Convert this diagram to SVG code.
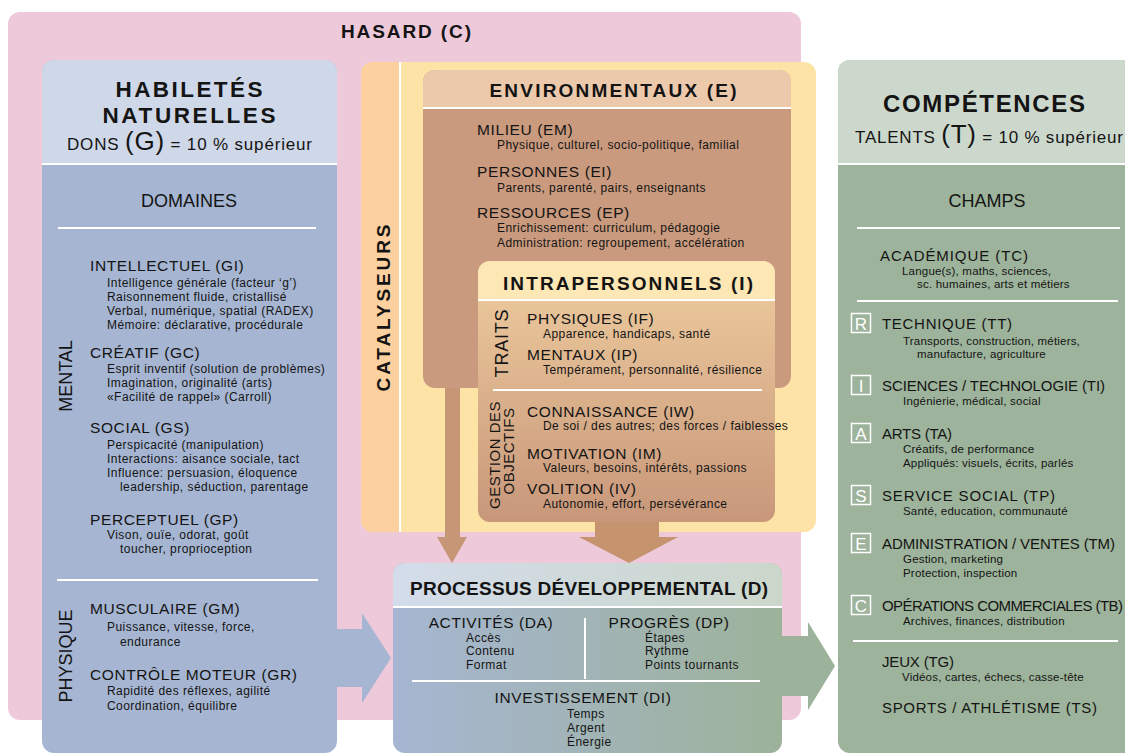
<svg xmlns="http://www.w3.org/2000/svg" width="1125" height="754" viewBox="0 0 1125 754">
<defs>
<style>
text{font-family:"Liberation Sans",Arial,Helvetica,sans-serif;fill:#141414}
.ttl{font-weight:bold;font-size:19px;text-anchor:middle}
.big{font-weight:bold;font-size:24px;text-anchor:middle}
.big2{font-weight:bold;font-size:22.5px;text-anchor:middle}
.sec{font-size:18px;text-anchor:middle}
.hd{font-size:15.5px;letter-spacing:0.6px}
.hdm{font-size:15.5px;letter-spacing:0.6px;text-anchor:middle}
.sb{font-size:12px;letter-spacing:0.45px}
.ch{font-size:15px}
.cs{font-size:11.5px;letter-spacing:0.2px}
.rot{font-size:18px;text-anchor:middle}
.rots{font-size:15px;text-anchor:middle;letter-spacing:0.5px}
.ltr{font-size:17px;fill:#ffffff;text-anchor:middle}
.lbox{fill:none;stroke:#ffffff;stroke-width:1.5}
.wl{stroke:#ffffff;stroke-width:2}
</style>
<linearGradient id="gIntra" x1="0" y1="0" x2="0" y2="1">
<stop offset="0" stop-color="#efcd9f"/>
<stop offset="1" stop-color="#c8977a"/>
</linearGradient>
<linearGradient id="gProcB" x1="0" y1="0" x2="1" y2="0">
<stop offset="0" stop-color="#a6b6d2"/>
<stop offset="1" stop-color="#9db29a"/>
</linearGradient>
<linearGradient id="gProcH" x1="0" y1="0" x2="1" y2="0">
<stop offset="0" stop-color="#d3dcea"/>
<stop offset="1" stop-color="#ccd7cb"/>
</linearGradient>
</defs>

<g id="hasard">
<rect x="8" y="12" width="793" height="708" rx="12" fill="#edc9da"/>
<text class="ttl" x="406" y="38" textLength="130" lengthAdjust="spacing">HASARD (C)</text>
</g>

<g id="catalyseurs">
<rect x="361" y="62" width="455" height="470" rx="12" fill="#fde3a6"/>
<path d="M399,62 V532 H373 a12,12 0 0 1 -12,-12 V74 a12,12 0 0 1 12,-12 Z" fill="#fdd09f"/>
<line class="wl" x1="400" y1="62" x2="400" y2="532"/>
<text class="ttl" transform="translate(390,308) rotate(-90)" textLength="167" lengthAdjust="spacing">CATALYSEURS</text>
</g>

<g id="connectors">
<polygon points="330,629 362,629 362,613 391,658 362,703 362,687 330,687" fill="#a6b6d2"/>
<polygon points="775,636 808,636 808,622 835,666 808,710 808,696 775,696" fill="#9db29a"/>
<polygon points="445,380 460,380 460,537 467,537 452,563 437,537 445,537" fill="#c69677"/>
<polygon points="595,515 659,515 659,537 678,537 629,563 579,537 595,537" fill="#c5946f"/>
</g>

<g id="habiletes">
<rect x="42" y="60" width="295" height="693" rx="12" fill="#a6b6d2"/>
<path d="M42,163 V72 a12,12 0 0 1 12,-12 H325 a12,12 0 0 1 12,12 V163 Z" fill="#cfd8e8"/>
<line class="wl" x1="42" y1="164" x2="337" y2="164"/>
<text class="big2" x="189" y="97" textLength="147" lengthAdjust="spacing">HABILETÉS</text>
<text class="big2" x="189" y="123" textLength="173" lengthAdjust="spacing">NATURELLES</text>
<text x="67" y="150" style="font-size:17px" textLength="245" lengthAdjust="spacing">DONS <tspan style="font-size:26px">(G)</tspan> = 10 % supérieur</text>
<text class="sec" x="189" y="207">DOMAINES</text>
<line class="wl" x1="58" y1="228" x2="316" y2="228"/>
<text class="rot" transform="translate(72,376) rotate(-90)">MENTAL</text>
<text class="hd" x="90" y="271">INTELLECTUEL (GI)</text>
<text class="sb" x="107" y="287">Intelligence générale (facteur ‘g’)</text>
<text class="sb" x="107" y="301">Raisonnement fluide, cristallisé</text>
<text class="sb" x="107" y="315">Verbal, numérique, spatial (RADEX)</text>
<text class="sb" x="107" y="329">Mémoire: déclarative, procédurale</text>
<text class="hd" x="90" y="358">CRÉATIF (GC)</text>
<text class="sb" x="107" y="373">Esprit inventif (solution de problèmes)</text>
<text class="sb" x="107" y="387">Imagination, originalité (arts)</text>
<text class="sb" x="107" y="401">«Facilité de rappel» (Carroll)</text>
<text class="hd" x="90" y="433">SOCIAL (GS)</text>
<text class="sb" x="107" y="449">Perspicacité (manipulation)</text>
<text class="sb" x="107" y="463">Interactions: aisance sociale, tact</text>
<text class="sb" x="107" y="477">Influence: persuasion, éloquence</text>
<text class="sb" x="120" y="491">leadership, séduction, parentage</text>
<text class="hd" x="90" y="525">PERCEPTUEL (GP)</text>
<text class="sb" x="107" y="539">Vison, ouïe, odorat, goût</text>
<text class="sb" x="120" y="553">toucher, proprioception</text>
<line class="wl" x1="57" y1="580" x2="318" y2="580"/>
<text class="rot" transform="translate(72,656) rotate(-90)">PHYSIQUE</text>
<text class="hd" x="90" y="614">MUSCULAIRE (GM)</text>
<text class="sb" x="107" y="631">Puissance, vitesse, force,</text>
<text class="sb" x="120" y="646">endurance</text>
<text class="hd" x="90" y="680">CONTRÔLE MOTEUR (GR)</text>
<text class="sb" x="107" y="695">Rapidité des réflexes, agilité</text>
<text class="sb" x="107" y="710">Coordination, équilibre</text>
</g>

<g id="environnementaux">
<rect x="423" y="70" width="368" height="318" rx="12" fill="#c99a7e"/>
<path d="M423,108 V82 a12,12 0 0 1 12,-12 H779 a12,12 0 0 1 12,12 V108 Z" fill="#edc9ac"/>
<line class="wl" x1="423" y1="108" x2="791" y2="108"/>
<text class="ttl" x="613" y="97" textLength="247" lengthAdjust="spacing">ENVIRONMENTAUX (E)</text>
<text class="hd" x="477" y="135">MILIEU (EM)</text>
<text class="sb" x="497" y="149">Physique, culturel, socio-politique, familial</text>
<text class="hd" x="477" y="177">PERSONNES (EI)</text>
<text class="sb" x="497" y="192">Parents, parenté, pairs, enseignants</text>
<text class="hd" x="477" y="218">RESSOURCES (EP)</text>
<text class="sb" x="497" y="232">Enrichissement: curriculum, pédagogie</text>
<text class="sb" x="497" y="247">Administration: regroupement, accélération</text>
</g>

<g id="intrapersonnels">
<rect x="478" y="261" width="297" height="261" rx="12" fill="url(#gIntra)"/>
<path d="M478,300 V273 a12,12 0 0 1 12,-12 H763 a12,12 0 0 1 12,12 V300 Z" fill="#fde7b5"/>
<line class="wl" x1="478" y1="300" x2="775" y2="300"/>
<text class="ttl" x="628" y="290" textLength="250" lengthAdjust="spacing">INTRAPERSONNELS (I)</text>
<text class="rot" transform="translate(508,343) rotate(-90)" style="letter-spacing:0.8px">TRAITS</text>
<text class="hd" x="527" y="324">PHYSIQUES (IF)</text>
<text class="sb" x="543" y="338">Apparence, handicaps, santé</text>
<text class="hd" x="527" y="360">MENTAUX (IP)</text>
<text class="sb" x="543" y="374">Tempérament, personnalité, résilience</text>
<line class="wl" x1="493" y1="390" x2="762" y2="390"/>
<text class="rots" transform="translate(500,455) rotate(-90)">GESTION DES</text>
<text class="rots" transform="translate(514,451) rotate(-90)">OBJECTIFS</text>
<text class="hd" x="527" y="417">CONNAISSANCE (IW)</text>
<text class="sb" x="543" y="430">De soi / des autres; des forces / faiblesses</text>
<text class="hd" x="527" y="459">MOTIVATION (IM)</text>
<text class="sb" x="543" y="472">Valeurs, besoins, intérêts, passions</text>
<text class="hd" x="527" y="494">VOLITION (IV)</text>
<text class="sb" x="543" y="508">Autonomie, effort, persévérance</text>
</g>

<g id="processus">
<rect x="393" y="563" width="389" height="190" rx="12" fill="url(#gProcB)"/>
<path d="M393,606 V575 a12,12 0 0 1 12,-12 H770 a12,12 0 0 1 12,12 V606 Z" fill="url(#gProcH)"/>
<line class="wl" x1="393" y1="607" x2="782" y2="607"/>
<text class="ttl" x="589" y="595" textLength="358" lengthAdjust="spacing">PROCESSUS DÉVELOPPEMENTAL (D)</text>
<text class="hdm" x="491" y="628">ACTIVITÉS (DA)</text>
<text class="sb" x="466" y="642">Accès</text>
<text class="sb" x="466" y="655">Contenu</text>
<text class="sb" x="466" y="669">Format</text>
<line class="wl" x1="585" y1="618" x2="585" y2="679"/>
<text class="hdm" x="669" y="628">PROGRÈS (DP)</text>
<text class="sb" x="645" y="642">Étapes</text>
<text class="sb" x="645" y="655">Rythme</text>
<text class="sb" x="645" y="669">Points tournants</text>
<line class="wl" x1="412" y1="681" x2="760" y2="681"/>
<text class="hdm" x="583" y="703" textLength="177" lengthAdjust="spacing">INVESTISSEMENT (DI)</text>
<text class="sb" x="567" y="718">Temps</text>
<text class="sb" x="567" y="732">Argent</text>
<text class="sb" x="567" y="746">Énergie</text>
</g>

<g id="competences">
<rect x="838" y="60" width="300" height="693" rx="12" fill="#9db39b"/>
<path d="M838,163 V72 a12,12 0 0 1 12,-12 H1138 V163 Z" fill="#cdd8cc"/>
<line class="wl" x1="838" y1="164" x2="1125" y2="164"/>
<text class="big" x="984" y="112" textLength="202" lengthAdjust="spacing">COMPÉTENCES</text>
<text x="855" y="143" style="font-size:17px" textLength="268" lengthAdjust="spacing">TALENTS <tspan style="font-size:26px">(T)</tspan> = 10 % supérieur</text>
<text class="sec" x="987" y="207">CHAMPS</text>
<line class="wl" x1="857" y1="228" x2="1120" y2="228"/>
<text class="ch" x="880" y="261" textLength="148" lengthAdjust="spacing">ACADÉMIQUE (TC)</text>
<text class="cs" x="902" y="275">Langue(s), maths, sciences,</text>
<text class="cs" x="917" y="288">sc. humaines, arts et métiers</text>
<line class="wl" x1="857" y1="301" x2="1118" y2="301"/>
<rect class="lbox" x="851.5" y="313.5" width="19" height="19"/>
<text class="ltr" x="861" y="330">R</text>
<text class="ch" x="882" y="329" textLength="130" lengthAdjust="spacing">TECHNIQUE (TT)</text>
<text class="cs" x="903" y="345">Transports, construction, métiers,</text>
<text class="cs" x="917" y="358">manufacture, agriculture</text>
<rect class="lbox" x="851.5" y="375.5" width="19" height="19"/>
<text class="ltr" x="861" y="392">I</text>
<text class="ch" x="882" y="391" textLength="223" lengthAdjust="spacing">SCIENCES / TECHNOLOGIE (TI)</text>
<text class="cs" x="903" y="405">Ingénierie, médical, social</text>
<rect class="lbox" x="851.5" y="423.5" width="19" height="19"/>
<text class="ltr" x="861" y="440">A</text>
<text class="ch" x="882" y="439" textLength="70" lengthAdjust="spacing">ARTS (TA)</text>
<text class="cs" x="903" y="453">Créatifs, de performance</text>
<text class="cs" x="903" y="467">Appliqués: visuels, écrits, parlés</text>
<rect class="lbox" x="851.5" y="485.5" width="19" height="19"/>
<text class="ltr" x="861" y="502">S</text>
<text class="ch" x="882" y="501" textLength="173" lengthAdjust="spacing">SERVICE SOCIAL (TP)</text>
<text class="cs" x="903" y="515">Santé, education, communauté</text>
<rect class="lbox" x="851.5" y="533.5" width="19" height="19"/>
<text class="ltr" x="861" y="550">E</text>
<text class="ch" x="882" y="549" textLength="233" lengthAdjust="spacing">ADMINISTRATION / VENTES (TM)</text>
<text class="cs" x="903" y="563">Gestion, marketing</text>
<text class="cs" x="903" y="577">Protection, inspection</text>
<rect class="lbox" x="851.5" y="595.5" width="19" height="19"/>
<text class="ltr" x="861" y="612">C</text>
<text class="ch" x="882" y="611" textLength="241" lengthAdjust="spacing">OPÉRATIONS COMMERCIALES (TB)</text>
<text class="cs" x="903" y="625">Archives, finances, distribution</text>
<line class="wl" x1="853" y1="641" x2="1118" y2="641"/>
<text class="ch" x="882" y="667" textLength="72" lengthAdjust="spacing">JEUX (TG)</text>
<text class="cs" x="902" y="681">Vidéos, cartes, échecs, casse-tête</text>
<text class="ch" x="882" y="713" textLength="215" lengthAdjust="spacing">SPORTS / ATHLÉTISME (TS)</text>
</g>
</svg>
